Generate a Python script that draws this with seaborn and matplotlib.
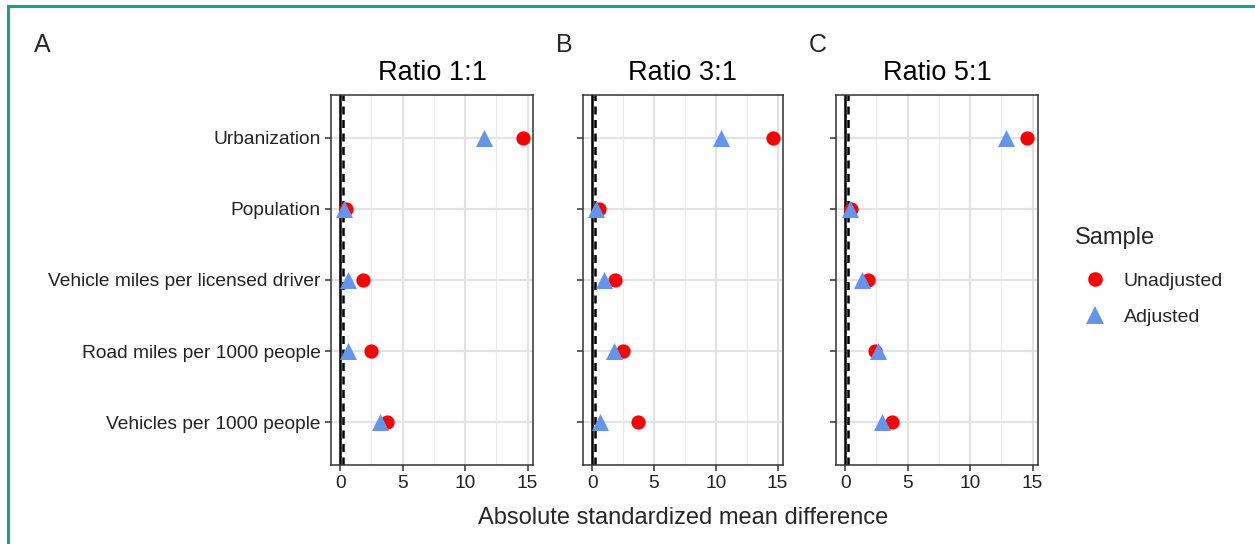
import matplotlib
matplotlib.use("Agg")
import matplotlib.pyplot as plt
import seaborn as sns
import pandas as pd
from matplotlib.patches import Rectangle
from matplotlib.lines import Line2D

variables = ["Urbanization", "Population", "Vehicle miles per licensed driver",
             "Road miles per 1000 people", "Vehicles per 1000 people"]
panels = ["Ratio 1:1", "Ratio 3:1", "Ratio 5:1"]
panel_letters = ["A", "B", "C"]

unadj_11 = [14.65, 0.5, 1.8, 2.45, 3.75]
adj_11 = [11.55, 0.3, 0.6, 0.65, 3.15]
unadj_31 = [14.6, 0.55, 1.85, 2.5, 3.75]
adj_31 = [10.4, 0.3, 0.95, 1.75, 0.6]
unadj_51 = [14.55, 0.5, 1.85, 2.4, 3.75]
adj_51 = [12.9, 0.4, 1.35, 2.6, 2.95]

threshold = 0.25

series = {
    "Ratio 1:1": (unadj_11, adj_11),
    "Ratio 3:1": (unadj_31, adj_31),
    "Ratio 5:1": (unadj_51, adj_51),
}

rows = []
for p in panels:
    u, a = series[p]
    for v, uv, av in zip(variables, u, a):
        rows.append({"panel": p, "variable": v, "Sample": "Unadjusted", "value": uv})
        rows.append({"panel": p, "variable": v, "Sample": "Adjusted", "value": av})
df = pd.DataFrame(rows)

sns.set_theme(style="white")
plt.rcParams["font.family"] = ["Liberation Sans", "DejaVu Sans"]

palette = {"Unadjusted": "#FF0000", "Adjusted": "#6495ED"}
markers = {"Unadjusted": "o", "Adjusted": "^"}
sizes_pt = {"Unadjusted": 105, "Adjusted": 150}

fig = plt.figure(figsize=(12.55, 5.44), dpi=100)
W, H = 1255, 544

# teal frame
fig.patches.append(Rectangle((8 / W, 0 - 0.05), 1.2, (H - 6) / H + 0.05,
                             transform=fig.transFigure, fill=False,
                             edgecolor="#1a9e8f", linewidth=2.2, zorder=0))

lefts = [331, 583, 836]
widths = [202, 200, 202]
bottom = (H - 465) / H
height = (465 - 95) / H
grey20 = "#333333"

axes = []
for i, p in enumerate(panels):
    ax = fig.add_axes([lefts[i] / W, bottom, widths[i] / W, height])
    axes.append(ax)
    sub = df[df["panel"] == p].copy()
    sub["ypos"] = sub["variable"].map({v: k for k, v in enumerate(variables)})
    ax.set_xlim(-0.735, 15.435)
    ax.set_ylim(len(variables) - 1 + 0.6, -0.6)
    # gridlines
    for xv in [2.5, 7.5, 12.5]:
        ax.axvline(xv, color="#EBEBEB", lw=0.8, zorder=0)
    for xv in [0, 5, 10, 15]:
        ax.axvline(xv, color="#E3E3E3", lw=1.5, zorder=0)
    for k in range(len(variables)):
        ax.axhline(k, color="#E3E3E3", lw=1.5, zorder=0)
    ax.axvline(0, color="black", lw=1.8, zorder=1)
    ax.axvline(threshold, color="black", lw=1.8, ls=(0, (3.2, 2.2)), zorder=1)
    for s in ["Unadjusted", "Adjusted"]:
        d = sub[sub["Sample"] == s]
        sns.scatterplot(data=d, x="value", y="ypos", color=palette[s],
                        marker=markers[s], s=sizes_pt[s], linewidth=0,
                        ax=ax, zorder=3, legend=False)
    ax.set_yticks(range(len(variables)))
    if i == 0:
        ax.set_yticklabels(variables, fontsize=13.8)
    else:
        ax.set_yticklabels([])
    ax.set_xticks([0, 5, 10, 15])
    ax.set_xticklabels(["0", "5", "10", "15"], fontsize=13.8)
    ax.tick_params(axis="both", which="major", length=4, width=1.1,
                   color=grey20, labelcolor="#222222", pad=3.5,
                   bottom=True, left=True)
    ax.set_xlabel("")
    ax.set_ylabel("")
    for sp in ax.spines.values():
        sp.set_color(grey20)
        sp.set_linewidth(1.1)
    ax.set_title(p, fontsize=19.5, pad=11, color="black")

# panel letters
fig.text(34 / W, 1 - 45 / H, "A", fontsize=18, va="center", ha="left")
fig.text(556 / W, 1 - 45 / H, "B", fontsize=18, va="center", ha="left")
fig.text(809 / W, 1 - 45 / H, "C", fontsize=18, va="center", ha="left")

fig.text(683 / W, 1 - 518 / H, "Absolute standardized mean difference",
         fontsize=17, ha="center", va="center")

# legend
fig.text(1075 / W, 1 - 238 / H, "Sample", fontsize=17, ha="left", va="center")
handles = [
    Line2D([], [], marker="o", color="#FF0000", ls="none", markersize=10.5, markeredgewidth=0),
    Line2D([], [], marker="^", color="#6495ED", ls="none", markersize=12.5, markeredgewidth=0),
]
leg = fig.legend(handles, ["Unadjusted", "Adjusted"],
                 loc="upper left", bbox_to_anchor=(1076 / W, 1 - 272 / H),
                 frameon=False, fontsize=14, borderpad=0,
                 handlelength=2.0, handletextpad=0.45, labelspacing=0.95,
                 borderaxespad=0)

fig.savefig("out.png", dpi=100)
